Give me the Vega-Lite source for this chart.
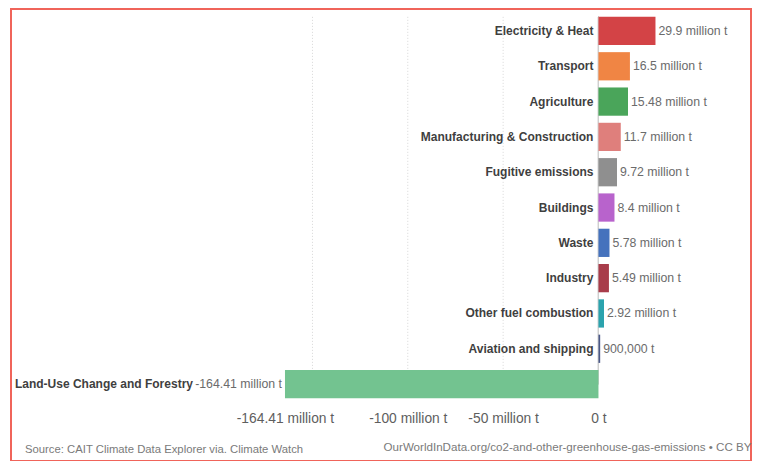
{
  "$schema": "https://vega.github.io/schema/vega-lite/v6.json",
  "width": 740,
  "height": 452,
  "autosize": {"type": "none"},
  "padding": {"left": 11, "top": 9, "right": 6, "bottom": 0},
  "background": "white",
  "config": {
    "font": "Liberation Sans",
    "view": {"stroke": "#f0645a", "strokeWidth": 2},
    "title": {"font": "Liberation Sans", "fontSize": 11.3, "fontWeight": "normal", "color": "#7a7a7a"}
  },
  "title": {
    "text": "Source: CAIT Climate Data Explorer via. Climate Watch",
    "orient": "bottom",
    "anchor": "start",
    "frame": "group",
    "offset": -17,
    "dx": 14
  },
  "datasets": {
    "sectors": [
      {"sector": "Electricity & Heat", "value": 29.9, "label": "29.9 million t"},
      {"sector": "Transport", "value": 16.5, "label": "16.5 million t"},
      {"sector": "Agriculture", "value": 15.48, "label": "15.48 million t"},
      {"sector": "Manufacturing & Construction", "value": 11.7, "label": "11.7 million t"},
      {"sector": "Fugitive emissions", "value": 9.72, "label": "9.72 million t"},
      {"sector": "Buildings", "value": 8.4, "label": "8.4 million t"},
      {"sector": "Waste", "value": 5.78, "label": "5.78 million t"},
      {"sector": "Industry", "value": 5.49, "label": "5.49 million t"},
      {"sector": "Other fuel combustion", "value": 2.92, "label": "2.92 million t"},
      {"sector": "Aviation and shipping", "value": 0.9, "label": "900,000 t"},
      {"sector": "Land-Use Change and Forestry", "value": -164.41, "label": "-164.41 million t"}
    ],
    "grid": [{"value": -150}, {"value": -100}, {"value": -50}]
  },
  "layer": [
    {
      "data": {"name": "sectors"},
      "mark": {"type": "bar", "opacity": 0},
      "encoding": {
        "y": {
          "field": "sector",
          "type": "nominal",
          "sort": null,
          "axis": null,
          "scale": {
            "type": "band",
            "paddingInner": 0.2,
            "paddingOuter": 1.02,
            "align": 0.111
          }
        },
        "x": {
          "field": "value",
          "type": "quantitative",
          "scale": {"domain": [-308.1, 80], "nice": false, "zero": false},
          "axis": {
            "values": [-164.41, -100, -50, 0],
            "labelExpr": "datum.value == 0 ? '0 t' : datum.value + ' million t'",
            "grid": false,
            "domain": false,
            "ticks": false,
            "offset": -53,
            "labelPadding": 3,
            "labelFontSize": 13.8,
            "labelColor": "#5e5e5e",
            "labelFont": "Liberation Sans",
            "title": "OurWorldInData.org/co2-and-other-greenhouse-gas-emissions • CC BY",
            "titleAnchor": "end",
            "titleAlign": "right",
            "titleFontSize": 11.6,
            "titleFontWeight": "normal",
            "titleColor": "#7a7a7a",
            "titleFont": "Liberation Sans",
            "titlePadding": 17
          }
        },
        "x2": {"datum": 0}
      }
    },
    {
      "data": {"name": "grid"},
      "mark": {"type": "rule", "color": "#d6d6d6", "strokeDash": [1, 2], "strokeWidth": 1},
      "encoding": {
        "x": {"field": "value", "type": "quantitative"},
        "y": {"datum": "Electricity & Heat", "type": "nominal", "bandPosition": 0},
        "y2": {"datum": "Land-Use Change and Forestry"}
      }
    },
    {
      "data": {"name": "sectors"},
      "mark": {"type": "rule", "color": "#cfcfcf", "strokeWidth": 1},
      "encoding": {
        "x": {"datum": 0},
        "y": {"datum": "Electricity & Heat", "type": "nominal", "bandPosition": 0},
        "y2": {"datum": "Land-Use Change and Forestry"}
      }
    },
    {
      "data": {"name": "sectors"},
      "mark": {"type": "bar"},
      "encoding": {
        "y": {"field": "sector", "type": "nominal", "sort": null},
        "x": {"field": "value", "type": "quantitative"},
        "x2": {"datum": 0},
        "color": {
          "field": "sector",
          "type": "nominal",
          "legend": null,
          "sort": null,
          "scale": {
            "range": ["#d34346", "#f08544", "#4aa55a", "#df7f7c", "#8f8f8f", "#b863cc", "#4572bd", "#a83c4a", "#2ba3ad", "#4b5987", "#73c390"]
          }
        }
      }
    },
    {
      "data": {"name": "sectors"},
      "transform": [{"filter": "datum.value >= 0"}],
      "mark": {"type": "text", "align": "right", "baseline": "middle", "dx": -5, "fontWeight": "bold", "fontSize": 12, "color": "#3f3f3f", "font": "Liberation Sans"},
      "encoding": {
        "y": {"field": "sector", "type": "nominal", "sort": null},
        "x": {"datum": 0},
        "text": {"field": "sector"}
      }
    },
    {
      "data": {"name": "sectors"},
      "transform": [{"filter": "datum.value >= 0"}],
      "mark": {"type": "text", "align": "left", "baseline": "middle", "dx": 3, "fontSize": 12.3, "color": "#6b6b6b", "font": "Liberation Sans"},
      "encoding": {
        "y": {"field": "sector", "type": "nominal", "sort": null},
        "x": {"field": "value", "type": "quantitative"},
        "text": {"field": "label"}
      }
    },
    {
      "data": {"name": "sectors"},
      "transform": [{"filter": "datum.value < 0"}],
      "mark": {"type": "text", "align": "right", "baseline": "middle", "dx": -3, "fontSize": 12.3, "color": "#6b6b6b", "font": "Liberation Sans"},
      "encoding": {
        "y": {"field": "sector", "type": "nominal", "sort": null},
        "x": {"field": "value", "type": "quantitative"},
        "text": {"field": "label"}
      }
    },
    {
      "data": {"name": "sectors"},
      "transform": [{"filter": "datum.value < 0"}],
      "mark": {"type": "text", "align": "right", "baseline": "middle", "dx": -92, "fontWeight": "bold", "fontSize": 12, "color": "#3f3f3f", "font": "Liberation Sans"},
      "encoding": {
        "y": {"field": "sector", "type": "nominal", "sort": null},
        "x": {"field": "value", "type": "quantitative"},
        "text": {"field": "sector"}
      }
    }
  ]
}
